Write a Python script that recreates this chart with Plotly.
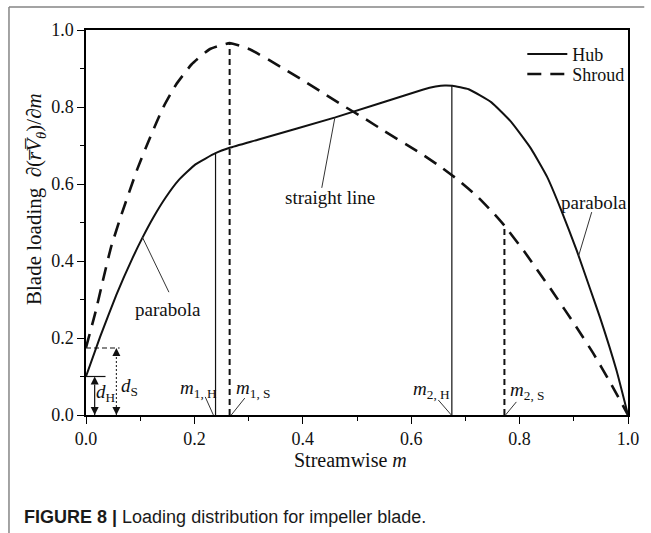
import plotly.graph_objects as go

# ---------------- data ----------------
hub_m = [0.000, 0.026, 0.056, 0.086, 0.104, 0.125, 0.147, 0.171, 0.202, 0.239,
         0.265, 0.317, 0.460, 0.621, 0.645, 0.662, 0.676, 0.706, 0.748, 0.784,
         0.821, 0.851, 0.876, 0.906, 0.930, 0.948, 0.979, 1.000]
hub_v = [0.100, 0.203, 0.312, 0.408, 0.460, 0.515, 0.565, 0.610, 0.651, 0.680,
         0.694, 0.715, 0.773, 0.845, 0.853, 0.856, 0.855, 0.846, 0.812, 0.762,
         0.692, 0.618, 0.535, 0.425, 0.328, 0.255, 0.115, 0.000]

shroud_m = [0.000, 0.018, 0.031, 0.046, 0.066, 0.095, 0.115, 0.130, 0.144, 0.166,
            0.195, 0.228, 0.265, 0.302, 0.362, 0.404, 0.441, 0.474, 0.514, 0.550,
            0.617, 0.657, 0.687, 0.723, 0.754, 0.772, 0.809, 0.833, 0.860, 0.905,
            0.936, 0.967, 1.000]
shroud_v = [0.175, 0.270, 0.348, 0.435, 0.523, 0.640, 0.710, 0.760, 0.803, 0.858,
            0.911, 0.950, 0.966, 0.950, 0.902, 0.866, 0.833, 0.804, 0.770, 0.738,
            0.680, 0.642, 0.610, 0.566, 0.521, 0.492, 0.424, 0.376, 0.322, 0.228,
            0.160, 0.085, 0.000]

# break points m1,H  m1,S  m2,H  m2,S
mark_m = [0.239, 0.265, 0.675, 0.772]
mark_top = [0.680, 0.966, 0.856, 0.492]
mark_name = ["1, H", "1, S", "2, H", "2, S"]
mark_is_shroud = [False, True, False, True]

d_H = 0.100
d_S = 0.174

x_ticks = [0.0, 0.2, 0.4, 0.6, 0.8, 1.0]
y_ticks = [0.0, 0.2, 0.4, 0.6, 0.8, 1.0]

SERIF = "Liberation Serif, Times New Roman, serif"
INK = "#111111"

fig = go.Figure()

# vertical break-point lines
for m, top, sh in zip(mark_m, mark_top, mark_is_shroud):
    fig.add_trace(go.Scatter(
        x=[m, m], y=[0, top], mode="lines", showlegend=False, hoverinfo="skip",
        line=dict(color=INK, width=2 if sh else 1.2, dash="6px,4px" if sh else "solid")))

# d_H / d_S helpers
fig.add_trace(go.Scatter(x=[0, 0.036], y=[d_H, d_H], mode="lines", showlegend=False,
                         line=dict(color=INK, width=1.2)))
fig.add_trace(go.Scatter(x=[0, 0.062], y=[d_S, d_S], mode="lines", showlegend=False,
                         line=dict(color=INK, width=1.2, dash="5px,3px")))
fig.add_trace(go.Scatter(x=[0.016, 0.016], y=[0, d_H], mode="lines+markers", showlegend=False,
                         line=dict(color=INK, width=1.2),
                         marker=dict(symbol=["arrow-down", "arrow-up"], size=8, color=INK)))
fig.add_trace(go.Scatter(x=[0.056, 0.056], y=[0, d_S], mode="lines+markers", showlegend=False,
                         line=dict(color=INK, width=1, dash="2px,2px"),
                         marker=dict(symbol=["arrow-down", "arrow-up"], size=8, color=INK)))

# main curves
fig.add_trace(go.Scatter(x=hub_m, y=hub_v, mode="lines", name="Hub", legend="legend",
                         line=dict(color=INK, width=2, shape="spline", smoothing=0.4)))
fig.add_trace(go.Scatter(x=shroud_m, y=shroud_v, mode="lines", name="Shroud", legend="legend2",
                         line=dict(color=INK, width=2.6, dash="14px,9px", shape="spline", smoothing=0.4)))

# leader lines (label -> target)
leaders = [
    ((0.220, 0.047), (0.235, 0.0)),
    ((0.293, 0.044), (0.268, 0.0)),
    ((0.650, 0.039), (0.674, 0.0)),
    ((0.794, 0.034), (0.774, 0.0)),
    ((0.153, 0.319), (0.104, 0.462)),
    ((0.435, 0.590), (0.459, 0.771)),
    ((0.933, 0.527), (0.909, 0.414)),
]
for (x0, y0), (x1, y1) in leaders:
    fig.add_shape(type="line", x0=x0, y0=y0, x1=x1, y1=y1, xref="x", yref="y",
                  line=dict(color="#333333", width=1))

ann = []
label_pos = [(0.208, 0.068), (0.308, 0.068), (0.638, 0.065), (0.814, 0.062)]
for (x, y), name in zip(label_pos, mark_name):
    ann.append(dict(x=x, y=y, xref="x", yref="y", showarrow=False, xanchor="center", yanchor="middle",
                    text="<i>m</i><sub>" + name + "</sub>", font=dict(family=SERIF, size=19, color=INK)))
ann += [
    dict(x=0.036, y=0.057, xref="x", yref="y", showarrow=False, xanchor="center", yanchor="middle",
         text="<i>d</i><sub>H</sub>", font=dict(family=SERIF, size=19, color=INK)),
    dict(x=0.080, y=0.072, xref="x", yref="y", showarrow=False, xanchor="center", yanchor="middle",
         text="<i>d</i><sub>S</sub>", font=dict(family=SERIF, size=19, color=INK)),
    dict(x=0.151, y=0.275, xref="x", yref="y", showarrow=False, xanchor="center", yanchor="middle",
         text="parabola", font=dict(family=SERIF, size=19, color=INK)),
    dict(x=0.450, y=0.566, xref="x", yref="y", showarrow=False, xanchor="center", yanchor="middle",
         text="straight line", font=dict(family=SERIF, size=19, color=INK)),
    dict(x=0.938, y=0.553, xref="x", yref="y", showarrow=False, xanchor="center", yanchor="middle",
         text="parabola", font=dict(family=SERIF, size=19, color=INK)),
    # axis titles
    dict(x=0.488, y=-0.116, xref="paper", yref="paper", showarrow=False,
         xanchor="center", yanchor="middle",
         text="Streamwise <i>m</i>", font=dict(family=SERIF, size=20, color=INK)),
    dict(x=-0.093, y=0.56, xref="paper", yref="paper", showarrow=False, textangle=-90,
         xanchor="center", yanchor="middle",
         text="Blade loading  ∂(<i>r̅V̅</i><sub><i>θ</i></sub>)/∂<i>m</i>",
         font=dict(family=SERIF, size=21, color=INK)),
    # caption
    dict(x=-0.118, y=-0.265, xref="paper", yref="paper", showarrow=False,
         xanchor="left", yanchor="middle",
         text="<b>FIGURE 8 |</b> Loading distribution for impeller blade.",
         font=dict(family="Liberation Sans, Arial, sans-serif", size=18, color="#1a1a1a")),
]

# outer page frame (top and left rules)
fig.add_shape(type="line", xref="paper", yref="paper", x0=-0.1421, x1=1.03, y0=1.0597, y1=1.0597,
              line=dict(color="#858585", width=1.5))
fig.add_shape(type="line", xref="paper", yref="paper", x0=-0.1421, x1=-0.1421, y0=1.0597, y1=-0.31,
              line=dict(color="#858585", width=1.5))

axis_common = dict(
    range=[0, 1], showgrid=False, zeroline=False, showline=True, linecolor="black",
    linewidth=1.5, mirror=True, ticks="outside", ticklen=7, tickwidth=1.3, tickcolor="black",
    tickformat=".1f", tickfont=dict(family=SERIF, size=18, color=INK),
    minor=dict(ticks="outside", ticklen=4, tickwidth=1.2, tickcolor="black", dtick=0.1, showgrid=False),
)
fig.update_xaxes(tickvals=x_ticks, **axis_common)
fig.update_yaxes(tickvals=y_ticks, **axis_common)

legend_style = dict(xanchor="left", yanchor="top", bgcolor="rgba(0,0,0,0)",
                    font=dict(family=SERIF, size=18, color=INK), itemwidth=40)
fig.update_layout(
    width=651, height=533,
    margin=dict(l=86, r=16, t=30, b=118),
    paper_bgcolor="white", plot_bgcolor="white",
    annotations=ann,
    legend=dict(x=0.805, y=0.985, **legend_style),
    legend2=dict(x=0.805, y=0.933, **legend_style),
    showlegend=True,
)

fig.write_html("out.html")
